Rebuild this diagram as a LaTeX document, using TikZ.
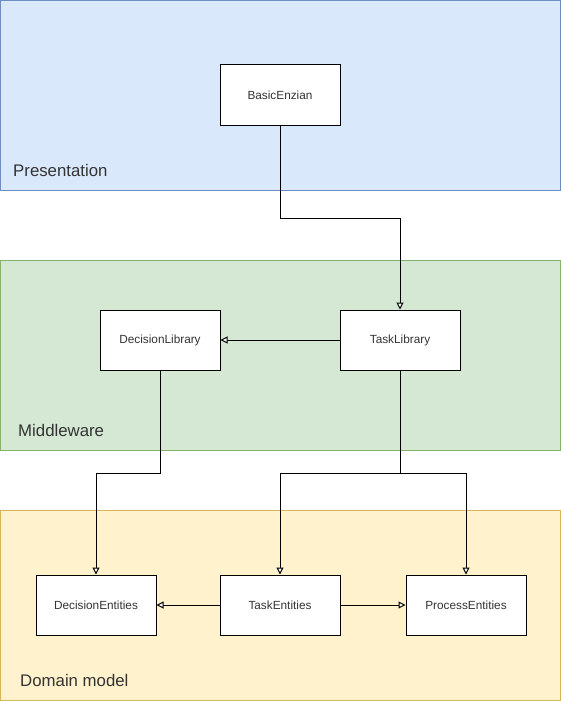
\documentclass[tikz,border=0pt]{standalone}
\usepackage{fontspec}
\setmainfont{Liberation Sans}
\usetikzlibrary{arrows.meta}
\definecolor{presfill}{HTML}{DAE8FC}
\definecolor{presline}{HTML}{6C8EBF}
\definecolor{midfill}{HTML}{D5E8D4}
\definecolor{midline}{HTML}{82B366}
\definecolor{domfill}{HTML}{FFF2CC}
\definecolor{domline}{HTML}{D6B656}
\definecolor{txt}{HTML}{333333}
\tikzset{
  layer/.style={draw=#1line, fill=#1fill, line width=1pt},
  layerlabel/.style={anchor=west, inner sep=0pt, font=\fontsize{16.8}{20}\selectfont, text=txt},
  comp/.style={draw=black, fill=white, line width=1pt, minimum width=120pt, minimum height=60pt, inner sep=0pt, font=\fontsize{11.8}{14}\selectfont, text=txt},
  link/.style={draw=black, line width=1pt, -{Triangle[open, length=7pt, width=7pt, fill=white]}},
  plain/.style={draw=black, line width=1pt}
}
\begin{document}
\begin{tikzpicture}[x=1pt, y=-1pt]
\useasboundingbox (0,0) rectangle (561,701);
\path[layer=pres] (0.5,0.5) rectangle (560.5,190);
\path[layer=mid] (0.5,260) rectangle (560.5,450);
\path[layer=dom] (0.5,510) rectangle (560.5,700.5);
\node[layerlabel] (lp) at (13,170) {Presentation};
\node[layerlabel] (lm) at (18,430) {Middleware};
\node[layerlabel] (ld) at (20,680) {Domain model};

\node[comp] (be) at (280,95) {BasicEnzian};
\node[comp] (dl) at (160,340) {DecisionLibrary};
\node[comp] (tl) at (400,340) {TaskLibrary};
\node[comp] (de) at (96,605) {DecisionEntities};
\node[comp] (te) at (280,605) {TaskEntities};
\node[comp] (pe) at (466,605) {ProcessEntities};

\coordinate (j1) at (280,218);
\coordinate (j2) at (400,218);
\coordinate (j3) at (160,473);
\coordinate (j4) at (96,473);
\coordinate (j5) at (400,473);
\coordinate (j6) at (280,473);
\coordinate (j7) at (466,473);

\draw[link] (be.south) -- (j1) -- (j2) -- (tl.north);
\draw[link] (tl.west) -- (dl.east);
\draw[link] (dl.south) -- (j3) -- (j4) -- (de.north);
\draw[link] (tl.south) -- (j5) -- (j6) -- (te.north);
\draw[link] (j5) -- (j7) -- (pe.north);
\draw[link] (te.west) -- (de.east);
\draw[link] (te.east) -- (pe.west);
\end{tikzpicture}
\end{document}
